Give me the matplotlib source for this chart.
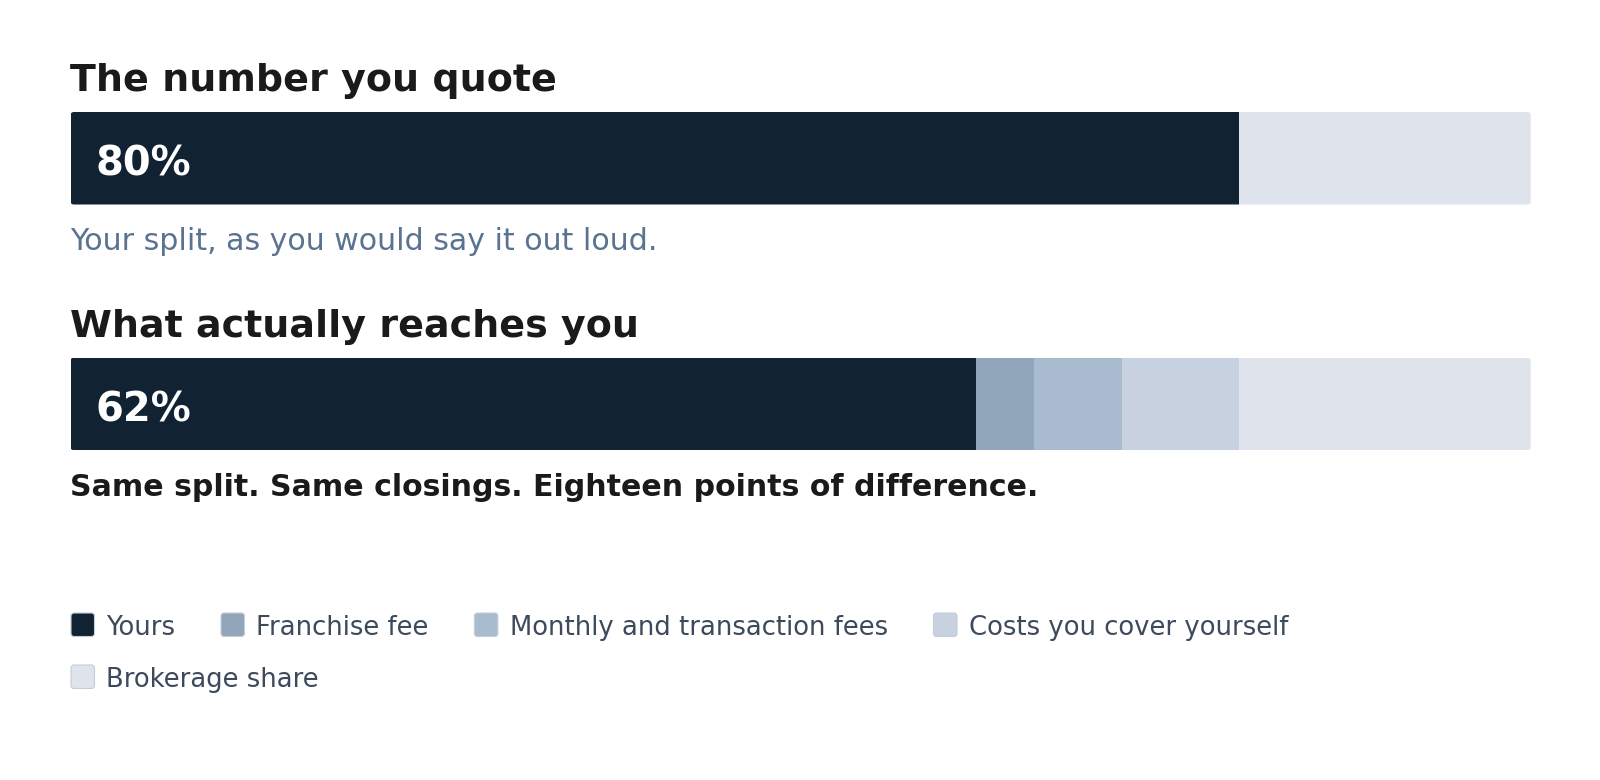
import matplotlib
matplotlib.use("Agg")
import matplotlib.pyplot as plt
from matplotlib.patches import FancyBboxPatch
from matplotlib.transforms import IdentityTransform

# data
quote_labels = ["Yours", "Brokerage share"]
quote_values = [80, 20]
actual_labels = ["Yours", "Franchise fee", "Monthly and transaction fees",
                 "Costs you cover yourself", "Brokerage share"]
actual_values = [62, 4, 6, 8, 20]
colors = {
    "Yours": "#112233",
    "Franchise fee": "#91a6bb",
    "Monthly and transaction fees": "#a8bbcf",
    "Costs you cover yourself": "#c8d1df",
    "Brokerage share": "#dfe3ec",
}
legend_labels = actual_labels

W, H = 1600, 780
fig = plt.figure(figsize=(W / 100, H / 100), dpi=100)
fig.patch.set_facecolor("white")

# overlay axes in pixel coords (y down), drawn above the bar axes
ov = fig.add_axes([0, 0, 1, 1])
ov.set_xlim(0, W)
ov.set_ylim(H, 0)
ov.axis("off")
ov.set_zorder(10)

LEFT, RIGHT = 70.5, 1530.7
BAR_H = 92.5


def stacked_bar(top, labels, values):
    ax = fig.add_axes([LEFT / W, (H - top - BAR_H) / H, (RIGHT - LEFT) / W, BAR_H / H])
    ax.set_xlim(0, sum(values))
    ax.set_ylim(-0.5, 0.5)
    ax.axis("off")
    clip = FancyBboxPatch((LEFT, H - top - BAR_H), RIGHT - LEFT, BAR_H,
                          boxstyle="round,pad=0,rounding_size=3.5",
                          transform=IdentityTransform(), facecolor="none", edgecolor="none")
    left = 0
    for lab, v in zip(labels, values):
        bars = ax.barh(0, v, left=left, height=1.0, color=colors[lab], linewidth=0)
        for b in bars:
            b.set_clip_path(clip)
        left += v
    ov.text(LEFT + 25.5, top + 64, f"{values[0]}%", color="white", fontsize=28.8,
            fontweight="bold", va="baseline", ha="left")


# titles and notes
ov.text(LEFT, 90.7, "The number you quote", fontsize=27.4, fontweight="bold",
        color="#1a1a1a", va="baseline", ha="left")
stacked_bar(112, quote_labels, quote_values)
ov.text(LEFT, 250, "Your split, as you would say it out loud.", fontsize=21.6,
        color="#5a7390", va="baseline", ha="left")

ov.text(LEFT, 336.7, "What actually reaches you", fontsize=27.4, fontweight="bold",
        color="#1a1a1a", va="baseline", ha="left")
stacked_bar(357.7, actual_labels, actual_values)
ov.text(LEFT, 496, "Same split. Same closings. Eighteen points of difference.",
        fontsize=21.6, fontweight="bold", color="#1a1a1a", va="baseline", ha="left")

# legend, wrapped like a flex row
fig.canvas.draw()
renderer = fig.canvas.get_renderer()
sq = 23.5
x, y = 71, 613
for lab in legend_labels:
    t = ov.text(0, 0, lab, fontsize=18.6, color="#3d4a5c", va="baseline", ha="left")
    tw = t.get_window_extent(renderer).width
    if x + sq + 12 + tw > RIGHT:
        x = 71
        y += 52
    t.set_position((x + sq + 12, y + 22))
    ov.add_patch(FancyBboxPatch((x, y), sq, sq,
                                boxstyle="round,pad=0,rounding_size=3",
                                facecolor=colors[lab], edgecolor="#c5cdd9", linewidth=0.8))
    x += sq + 12 + tw + 45.5

fig.savefig("out.png", dpi=100, facecolor="white")
